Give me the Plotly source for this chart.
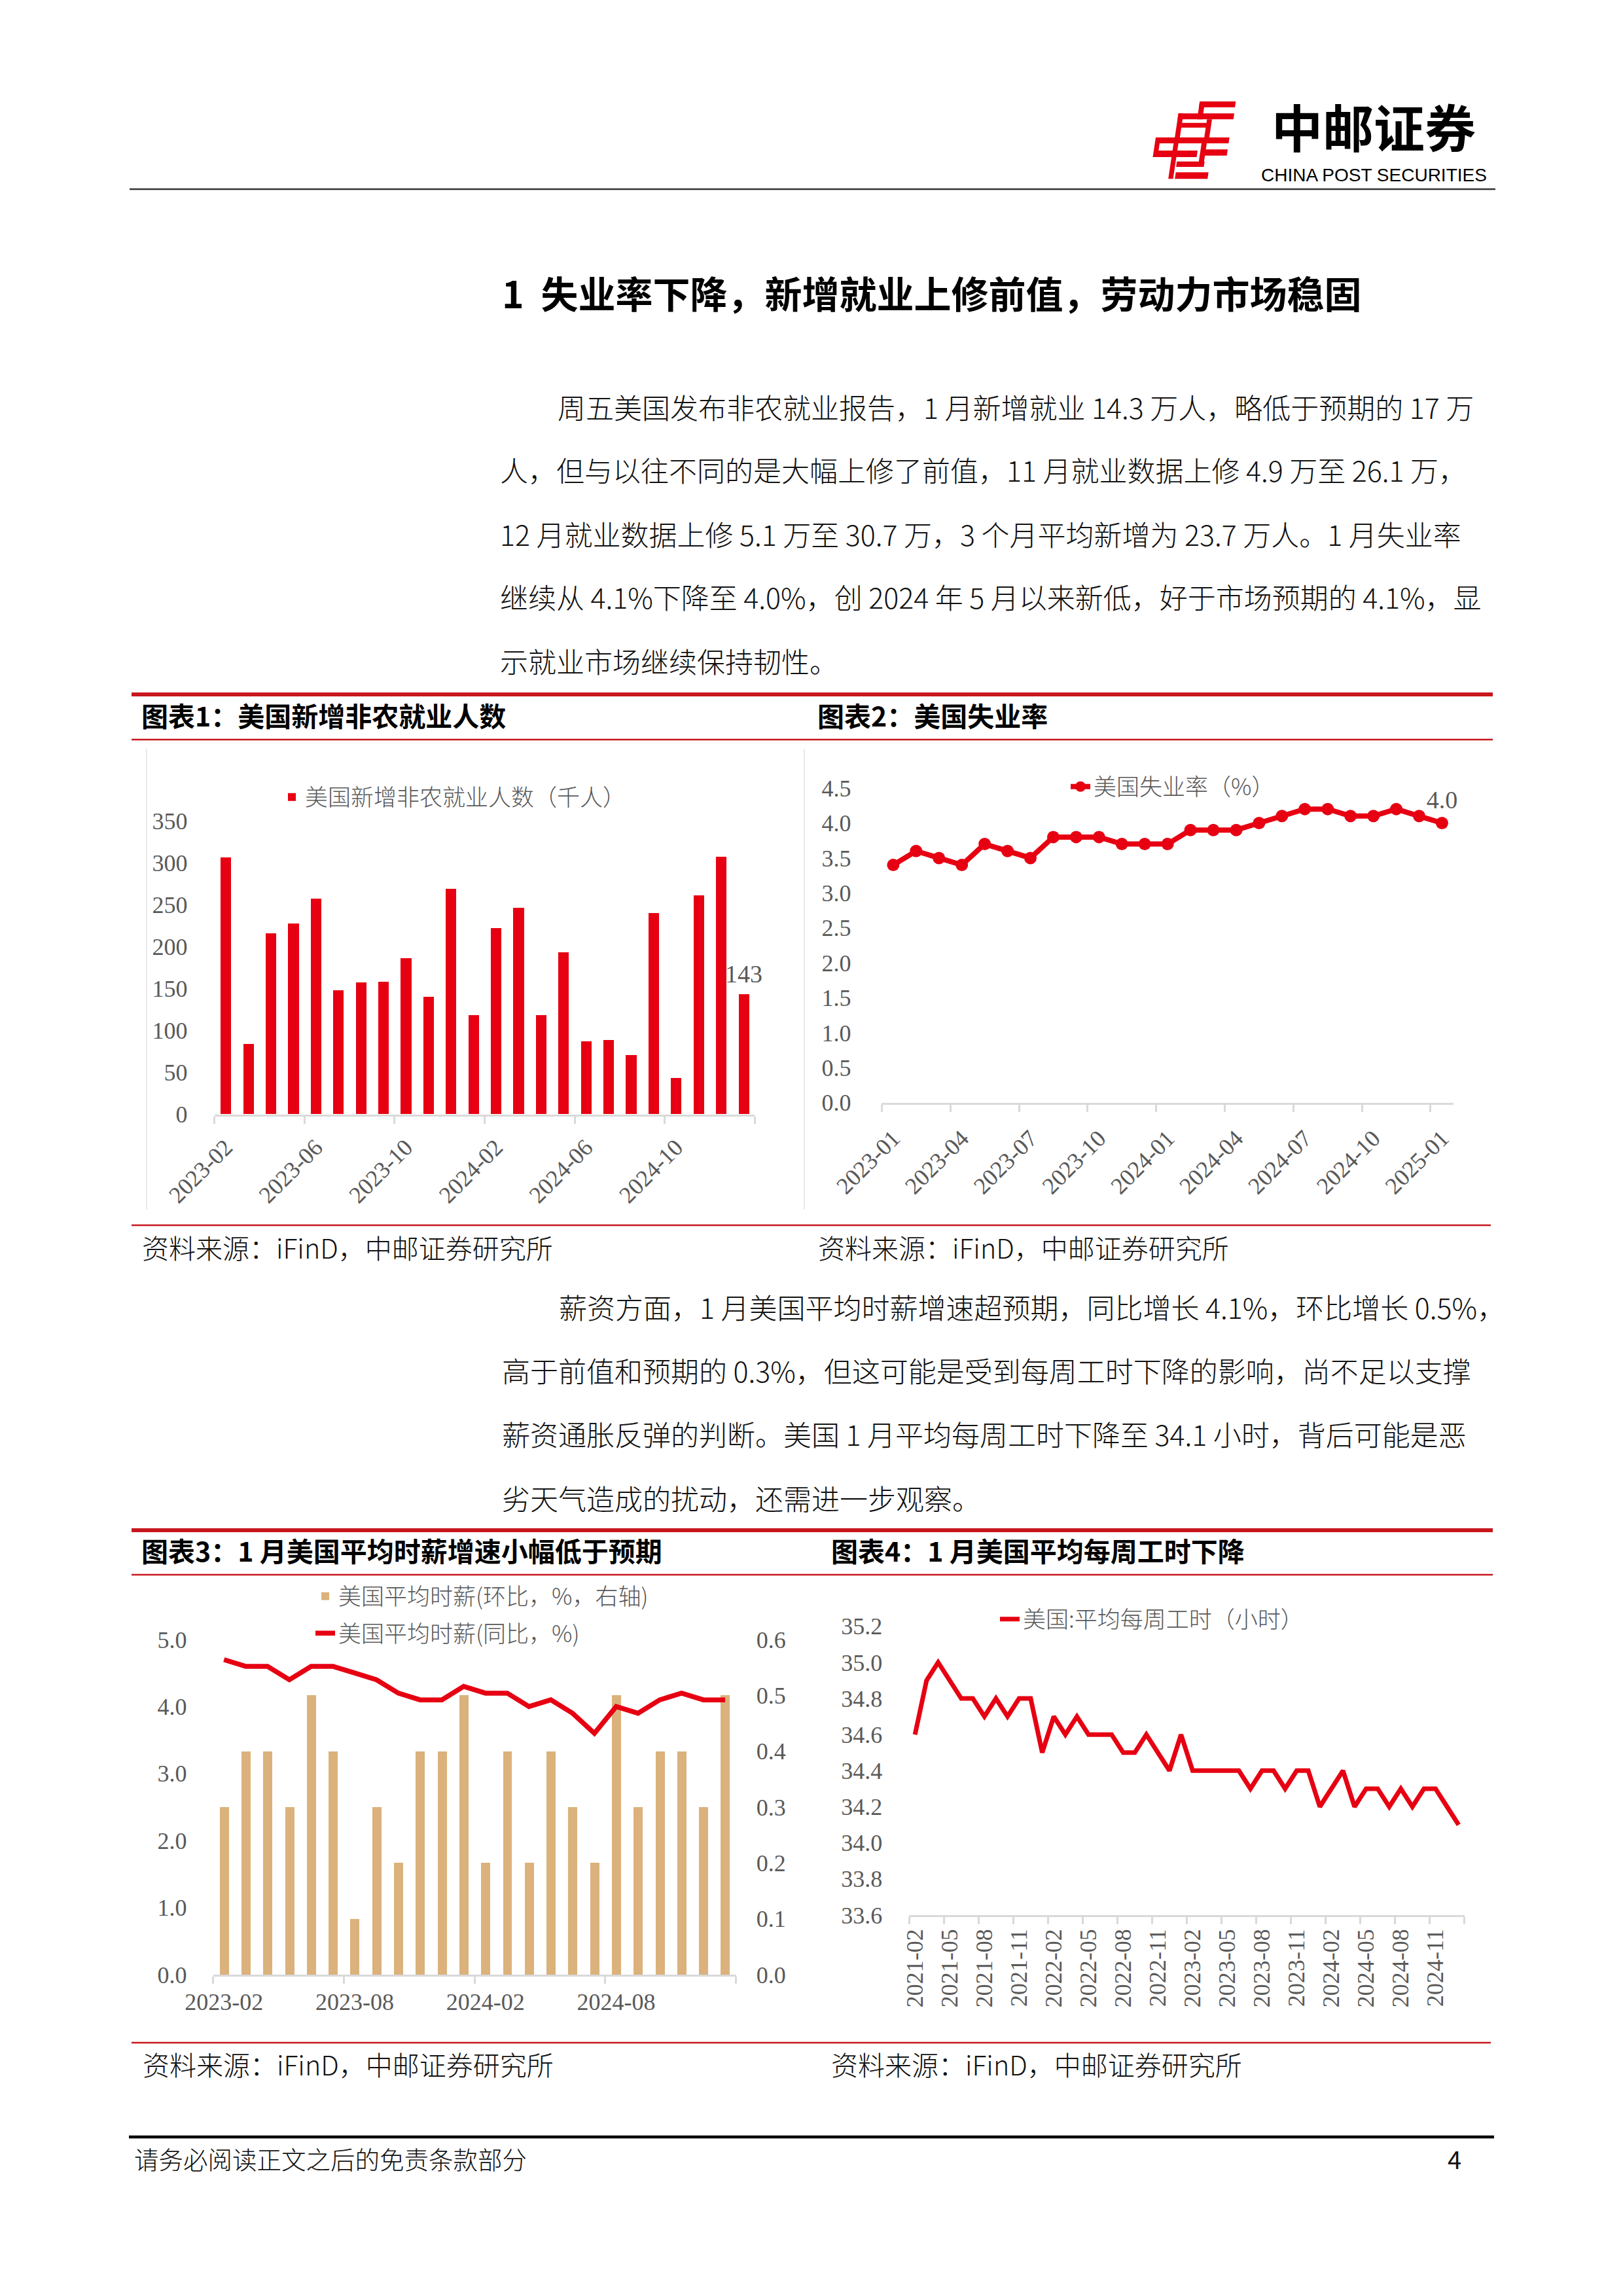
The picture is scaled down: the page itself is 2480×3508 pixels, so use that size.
import plotly.graph_objects as go
import pandas as pd

W, H = 2480, 3508

# ---------------- data ----------------
nfp_months = pd.date_range("2023-02-01", periods=24, freq="MS").strftime("%Y-%m").tolist()
nfp_values = [306, 84, 216, 227, 257, 148, 157, 158, 186, 140, 269, 118,
              222, 246, 118, 193, 87, 88, 70, 240, 43, 261, 307, 143]

unemp_months = pd.date_range("2023-01-01", periods=25, freq="MS").strftime("%Y-%m").tolist()
unemp_values = [3.4, 3.6, 3.5, 3.4, 3.7, 3.6, 3.5, 3.8, 3.8, 3.8, 3.7, 3.7, 3.7,
                3.9, 3.9, 3.9, 4.0, 4.1, 4.2, 4.2, 4.1, 4.1, 4.2, 4.1, 4.0]

wage_months = pd.date_range("2023-02-01", periods=24, freq="MS").strftime("%Y-%m").tolist()
wage_mom = [0.3, 0.4, 0.4, 0.3, 0.5, 0.4, 0.1, 0.3, 0.2, 0.4, 0.4, 0.5,
            0.2, 0.4, 0.2, 0.4, 0.3, 0.2, 0.5, 0.3, 0.4, 0.4, 0.3, 0.5]
wage_yoy = [4.7, 4.6, 4.6, 4.4, 4.6, 4.6, 4.5, 4.4, 4.2, 4.1, 4.1, 4.3,
            4.2, 4.2, 4.0, 4.1, 3.9, 3.6, 4.0, 3.9, 4.1, 4.2, 4.1, 4.1]

hours_months = pd.date_range("2021-02-01", periods=48, freq="MS").strftime("%Y-%m").tolist()
hours_values = [34.6, 34.9, 35.0, 34.9, 34.8, 34.8, 34.7, 34.8, 34.7, 34.8, 34.8, 34.5,
                34.7, 34.6, 34.7, 34.6, 34.6, 34.6, 34.5, 34.5, 34.6, 34.5, 34.4, 34.6,
                34.4, 34.4, 34.4, 34.4, 34.4, 34.3, 34.4, 34.4, 34.3, 34.4, 34.4, 34.2,
                34.3, 34.4, 34.2, 34.3, 34.3, 34.2, 34.3, 34.2, 34.3, 34.3, 34.2, 34.1]

nfp_name = "美国新增非农就业人数（千人）"
unemp_name = "美国失业率（%）"
wage_mom_name = "美国平均时薪(环比，%，右轴)"
wage_yoy_name = "美国平均时薪(同比，%)"
hours_name = "美国:平均每周工时（小时）"

# ---------------- text ----------------
brand_cn = "中邮证券"
brand_en = "CHINA POST SECURITIES"
section_title = "1\u00a0\u00a0失业率下降，新增就业上修前值，劳动力市场稳固"
para1 = [
    "周五美国发布非农就业报告，1 月新增就业 14.3 万人，略低于预期的 17 万",
    "人，但与以往不同的是大幅上修了前值，11 月就业数据上修 4.9 万至 26.1 万，",
    "12 月就业数据上修 5.1 万至 30.7 万，3 个月平均新增为 23.7 万人。1 月失业率",
    "继续从 4.1%下降至 4.0%，创 2024 年 5 月以来新低，好于市场预期的 4.1%，显",
    "示就业市场继续保持韧性。",
]
para2 = [
    "薪资方面，1 月美国平均时薪增速超预期，同比增长 4.1%，环比增长 0.5%，",
    "高于前值和预期的 0.3%，但这可能是受到每周工时下降的影响，尚不足以支撑",
    "薪资通胀反弹的判断。美国 1 月平均每周工时下降至 34.1 小时，背后可能是恶",
    "劣天气造成的扰动，还需进一步观察。",
]
chart_titles = ["图表1：美国新增非农就业人数", "图表2：美国失业率",
                "图表3：1 月美国平均时薪增速小幅低于预期", "图表4：1 月美国平均每周工时下降"]
source_text = "资料来源：iFinD，中邮证券研究所"
footer_text = "请务必阅读正文之后的免责条款部分"
page_no = "4"

# ---------------- styling ----------------
RED = "#E60012"
LINE_RED = "#C8161E"
TAN = "#DBB27C"
GRAY = "#D9D9D9"
TXT_GRAY = "#595959"
CJK = "Noto Sans CJK SC"
SERIF = "Liberation Serif, Times New Roman, serif"
TICKFONT = dict(family=SERIF, size=36, color=TXT_GRAY)
LEGFONT = dict(family=CJK, size=35, color=TXT_GRAY, weight=300)


def fx(p):
    return p / W


def fy(p):
    return 1 - p / H


def xcfg(x0, x1, anchor, labels, label_step, tick_step, angle, standoff):
    n = len(labels)
    return dict(
        domain=[fx(x0), fx(x1)], anchor=anchor, range=[-0.5, n - 0.5],
        tickmode="array", tickvals=list(range(0, n, label_step)),
        ticktext=labels[::label_step], ticks="", showline=True,
        linecolor=GRAY, linewidth=3, showgrid=False, zeroline=False,
        tickangle=angle, tickfont=TICKFONT, ticklabelstandoff=standoff,
        minor=dict(tickmode="array",
                   tickvals=[k - 0.5 for k in range(0, n + 1, tick_step)],
                   ticks="outside", ticklen=11, tickwidth=3, tickcolor=GRAY,
                   showgrid=False),
        fixedrange=True,
    )


def ycfg(y_bottom, y_top, rng, dtick, anchor, fmt, side="left", standoff=38):
    return dict(
        domain=[fy(y_bottom), fy(y_top)], range=rng, dtick=dtick, tick0=rng[0],
        tickmode="linear", tickformat=fmt, anchor=anchor, side=side,
        showline=False, showgrid=False, zeroline=False, ticks="",
        tickfont=TICKFONT, ticklabelstandoff=standoff, fixedrange=True,
    )


fig = go.Figure()

# Chart 1: bars
fig.add_trace(go.Bar(
    x=list(range(len(nfp_values))), y=nfp_values, name=nfp_name,
    marker=dict(color=RED, line=dict(width=0)), width=0.47,
    xaxis="x", yaxis="y", legend="legend",
))

# Chart 2: unemployment line
unemp_text = [""] * (len(unemp_values) - 1) + [f"{unemp_values[-1]:.1f}"]
fig.add_trace(go.Scatter(
    x=list(range(len(unemp_values))), y=unemp_values, name=unemp_name,
    mode="lines+markers+text", text=unemp_text, textposition="top center",
    textfont=dict(family=SERIF, size=38, color=TXT_GRAY),
    line=dict(color=RED, width=8), marker=dict(color=RED, size=19),
    xaxis="x2", yaxis="y2", legend="legend2", cliponaxis=False,
))

# Chart 3: wages
fig.add_trace(go.Bar(
    x=list(range(len(wage_mom))), y=wage_mom, name=wage_mom_name,
    marker=dict(color=TAN, line=dict(width=0)), width=0.42,
    xaxis="x3", yaxis="y3", legend="legend3", legendgroup="mom",
))
fig.add_trace(go.Scatter(
    x=list(range(len(wage_yoy))), y=wage_yoy, name=wage_yoy_name,
    mode="lines", line=dict(color=RED, width=7.5),
    xaxis="x3", yaxis="y5", legend="legend3", legendgroup="yoy",
))

# Chart 4: weekly hours
fig.add_trace(go.Scatter(
    x=list(range(len(hours_values))), y=hours_values, name=hours_name,
    mode="lines", line=dict(color=RED, width=7),
    xaxis="x4", yaxis="y4", legend="legend4",
))

annotations = []


def add_text(text, x, y, size, color="#000000", family=CJK, bold=False,
             xanchor="left", yanchor="middle", weight=None):
    font = dict(family=family, size=size, color=color)
    if weight:
        font["weight"] = weight
    annotations.append(dict(
        text=f"<b>{text}</b>" if bold else text, x=fx(x), y=fy(y),
        xref="paper", yref="paper", xanchor=xanchor, yanchor=yanchor,
        showarrow=False, align="center" if xanchor == "center" else "left",
        font=font,
    ))


# label on last NFP bar
annotations.append(dict(
    text=str(nfp_values[-1]), x=len(nfp_values) - 1, y=nfp_values[-1],
    xref="x", yref="y", xanchor="center", yanchor="bottom", yshift=8,
    showarrow=False, font=dict(family=SERIF, size=38, color=TXT_GRAY),
))

# header brand
add_text(brand_cn, 2099, 192, 78, bold=True, xanchor="center")
add_text(brand_en, 2099, 268, 28, family="Liberation Sans, Arial, sans-serif",
         xanchor="center")
# section title
add_text(section_title, 765, 446, 57, bold=True)
# paragraph 1
p1_y = [621, 717, 815, 911, 1009]
for i, (line, y) in enumerate(zip(para1, p1_y)):
    add_text(line, 850 if i == 0 else 762, y, 43, color="#111111", weight=300)
# paragraph 2
p2_y = [1996, 2093, 2190, 2288]
for i, (line, y) in enumerate(zip(para2, p2_y)):
    add_text(line, 852 if i == 0 else 765, y, 43, color="#111111", weight=300)
# chart titles
add_text(chart_titles[0], 214, 1092, 41, bold=True)
add_text(chart_titles[1], 1247, 1092, 41, bold=True)
add_text(chart_titles[2], 214, 2368, 41, bold=True)
add_text(chart_titles[3], 1268, 2368, 41, bold=True)
# sources
add_text(source_text, 215, 1905, 41, color="#111111", weight=300)
add_text(source_text, 1248, 1905, 41, color="#111111", weight=300)
add_text(source_text, 216, 3153, 41, color="#111111", weight=300)
add_text(source_text, 1268, 3153, 41, color="#111111", weight=300)
# footer
add_text(footer_text, 203, 3297, 37.5, color="#111111", weight=300)
add_text(page_no, 2222, 3297, 38, color="#111111", xanchor="center")

shapes = []


def hline(y, x0, x1, color, width):
    shapes.append(dict(type="line", xref="paper", yref="paper",
                       x0=fx(x0), x1=fx(x1), y0=fy(y), y1=fy(y),
                       line=dict(color=color, width=width)))


def vline(x, y0, y1, color, width):
    shapes.append(dict(type="line", xref="paper", yref="paper",
                       x0=fx(x), x1=fx(x), y0=fy(y0), y1=fy(y1),
                       line=dict(color=color, width=width)))


hline(289, 198, 2285, "#333333", 2.5)
hline(1061, 201, 2281, LINE_RED, 6)
hline(1130, 201, 2281, LINE_RED, 2.5)
hline(1872, 201, 2278, LINE_RED, 2.5)
hline(2338, 201, 2281, LINE_RED, 6)
hline(2406, 201, 2281, LINE_RED, 2.5)
hline(3121, 201, 2278, LINE_RED, 2.5)
hline(3265, 197, 2283, "#000000", 4.5)
vline(224, 1144, 1848, "#E3E3E3", 1.5)
vline(1229, 1144, 1848, "#E3E3E3", 1.5)


# logo (stylised red bars)
def logo_piece(uL, uR, vT, vB, k=0.15):
    pts = [(uL, vT), (uR, vT), (uR - k * (vB - vT), vB), (uL - k * (vB - vT), vB)]
    coords = [f"{fx(1750 + u / 3):.5f},{fy(145 + v / 3):.5f}" for u, v in pts]
    return "M " + " L ".join(coords) + " Z"


logo_pieces = [
    (250, 415, 30, 57), (250, 274, 30, 112), (152, 408, 85, 112),
    (152, 175, 85, 222), (168, 300, 128, 150), (283, 306, 112, 222),
    (50, 386, 195, 222), (48, 70, 195, 285), (55, 240, 255, 285),
    (130, 152, 222, 385), (262, 286, 195, 330), (262, 378, 250, 278),
    (140, 290, 355, 385), (145, 272, 305, 330),
]
for p in logo_pieces:
    shapes.append(dict(type="path", xref="paper", yref="paper",
                       path=logo_piece(*p), fillcolor=RED, line=dict(width=0)))

leg_common = dict(xanchor="left", yanchor="middle", font=LEGFONT,
                  bgcolor="rgba(0,0,0,0)", borderwidth=0, orientation="v")

fig.update_layout(
    width=W, height=H, template="none",
    margin=dict(l=0, r=0, t=0, b=0, pad=0),
    paper_bgcolor="white", plot_bgcolor="rgba(0,0,0,0)",
    showlegend=True, bargap=0,
    xaxis=xcfg(327.6, 1153.4, "y", nfp_months, 4, 4, -45, 12),
    yaxis=ycfg(1702.5, 1254.4, [0, 350], 50, "x", "d", standoff=40),
    xaxis2=xcfg(1347.4, 2220.9, "y2", unemp_months, 3, 3, -45, 16),
    yaxis2=ycfg(1684.8, 1204.1, [0, 4.5], 0.5, "x2", ".1f", standoff=46),
    xaxis3=xcfg(325.6, 1124.7, "y3", wage_months, 6, 6, 0, 8),
    yaxis3=ycfg(3017, 2505, [0, 0.6], 0.1, "x3", ".1f", side="right", standoff=30),
    yaxis5=dict(ycfg(3017, 2505, [0, 5], 1, "x3", ".1f", standoff=39), overlaying="y3"),
    xaxis4=xcfg(1389.3, 2237.7, "y4", hours_months, 3, 3, -90, 4),
    yaxis4=ycfg(2925.9, 2484.8, [33.6, 35.2], 0.2, "x4", ".1f", standoff=40),
    legend=dict(leg_common, x=fx(426), y=fy(1218)),
    legend2=dict(leg_common, x=fx(1631), y=fy(1202)),
    legend3=dict(leg_common, x=fx(477), y=fy(2467), tracegroupgap=8),
    legend4=dict(leg_common, x=fx(1523), y=fy(2474)),
    annotations=annotations, shapes=shapes,
)

fig.write_html("out.html", config={"displayModeBar": False},
               post_script="document.body.style.margin='0';")
